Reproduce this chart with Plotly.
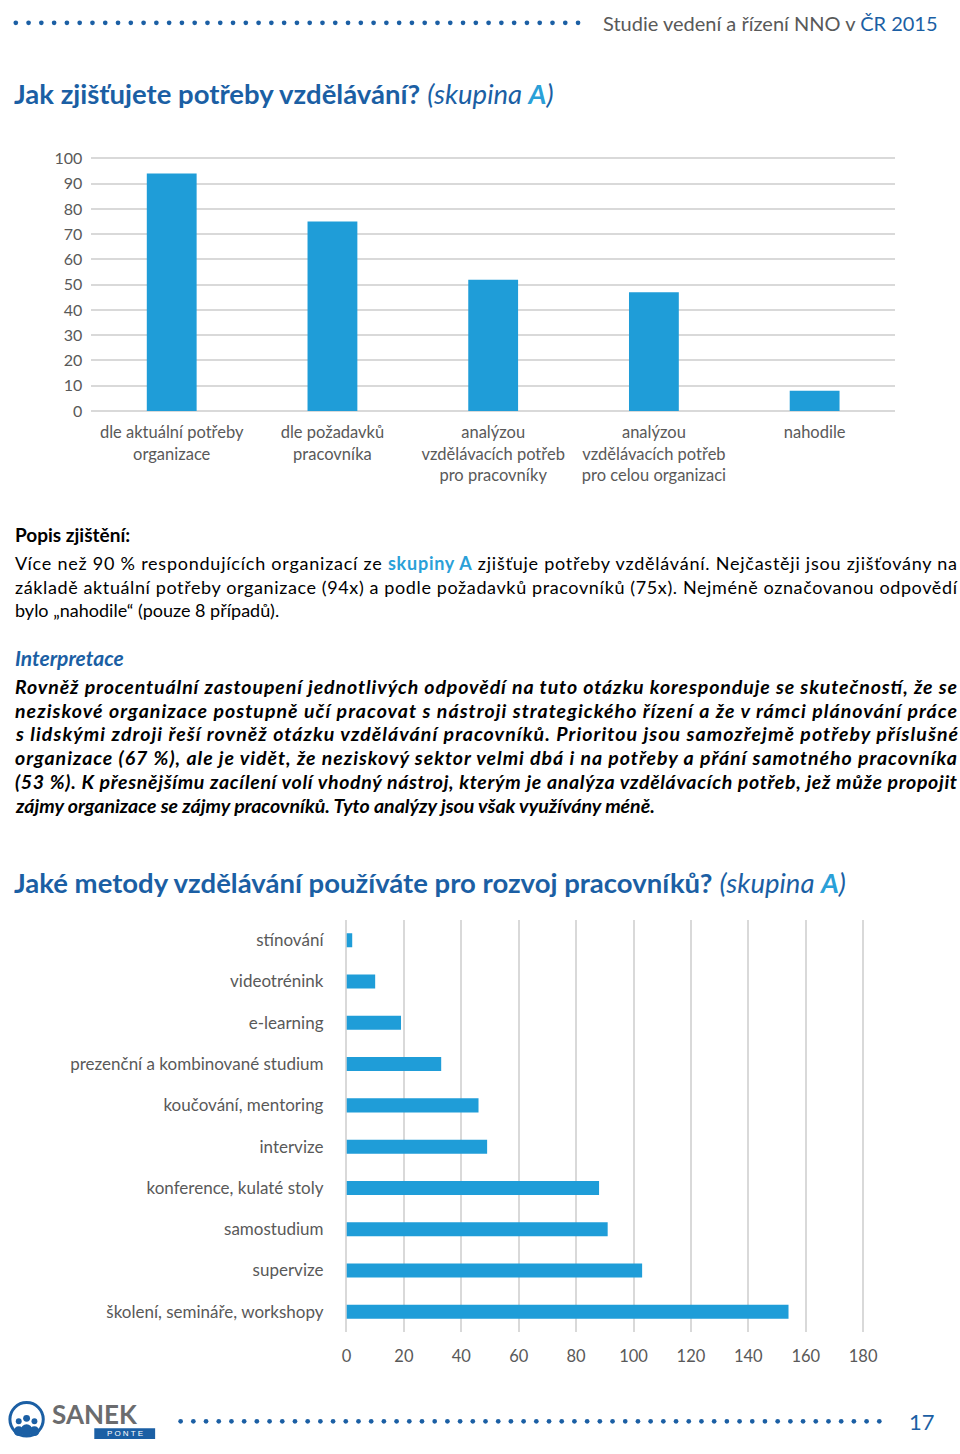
import plotly.graph_objects as go

# ---------------- data ----------------
needs_categories = [
    "dle aktuální potřeby<br>organizace",
    "dle požadavků<br>pracovníka",
    "analýzou<br>vzdělávacích potřeb<br>pro pracovníky",
    "analýzou<br>vzdělávacích potřeb<br>pro celou organizaci",
    "nahodile",
]
needs_values = [94, 75, 52, 47, 8]
needs_ticks = [0, 10, 20, 30, 40, 50, 60, 70, 80, 90, 100]

methods_categories = [
    "stínování",
    "videotrénink",
    "e-learning",
    "prezenční a kombinované studium",
    "koučování, mentoring",
    "intervize",
    "konference, kulaté stoly",
    "samostudium",
    "supervize",
    "školení, semináře, workshopy",
]
methods_values = [2, 10, 19, 33, 46, 49, 88, 91, 103, 154]
methods_ticks = [0, 20, 40, 60, 80, 100, 120, 140, 160, 180]

# ---------------- style ----------------
W, H = 960, 1454
BAR = "#1f9dd8"
GRID = "#d9d9d9"
GRAYTXT = "#595959"
DARKBLUE = "#1b5fa4"
LIGHTBLUE = "#2aa0d8"
FONT = "Lato, 'Open Sans', sans-serif"


def px(x):
    return x / W


def py(y):
    return 1 - y / H


fig = go.Figure()

fig.add_trace(go.Bar(
    x=needs_categories, y=needs_values, marker_color=BAR, width=0.31,
    marker_line_width=0, xaxis="x", yaxis="y", hoverinfo="x+y",
))
fig.add_trace(go.Bar(
    y=methods_categories, x=methods_values, orientation="h", marker_color=BAR,
    width=0.34, marker_line_width=0, xaxis="x2", yaxis="y2", hoverinfo="x+y",
))

axis_font = dict(family=FONT, size=16.5, color=GRAYTXT)

fig.update_layout(
    width=W, height=H,
    margin=dict(l=0, r=0, t=0, b=0),
    paper_bgcolor="white", plot_bgcolor="white",
    showlegend=False,
    xaxis=dict(
        domain=[px(88), px(907)], anchor="y", showgrid=False, showline=False,
        zeroline=False, tickfont=axis_font, ticks="", ticklabelstandoff=10,
        fixedrange=True,
    ),
    yaxis=dict(
        domain=[py(407), py(150)], anchor="x", range=[0, 100.5],
        tickvals=needs_ticks, showgrid=True, gridcolor=GRID, gridwidth=2,
        zeroline=True, zerolinecolor=GRID, zerolinewidth=2, showline=False,
        tickfont=dict(family=FONT, size=16, color=GRAYTXT), ticks="",
        ticklabelstandoff=8, fixedrange=True,
    ),
    xaxis2=dict(
        domain=[px(348), px(876)], anchor="y2", range=[0, 180.5],
        tickvals=methods_ticks, showgrid=True, gridcolor=GRID, gridwidth=2,
        zeroline=True, zerolinecolor=GRID, zerolinewidth=2, showline=False,
        tickfont=axis_font, ticks="", ticklabelstandoff=12, fixedrange=True,
    ),
    yaxis2=dict(
        domain=[py(1340), py(922)], anchor="x2", autorange="reversed",
        showgrid=False, showline=False, zeroline=False,
        tickfont=dict(family=FONT, size=17, color=GRAYTXT),
        ticks="", ticklabelstandoff=22, fixedrange=True,
    ),
)

ann = []
justify = []


def text(x, y, s, size, color="black", family=FONT, xanchor="left", just=False):
    if just:
        justify.append(len(ann))
    ann.append(dict(
        x=px(x), y=py(y), xref="paper", yref="paper", text=s, showarrow=False,
        xanchor=xanchor, yanchor="middle", align="left",
        font=dict(family=family, size=size, color=color),
    ))


# header
text(953, 14, f"Studie vedení a řízení NNO v <span style='color:{DARKBLUE}'>ČR 2015</span>",
     20, GRAYTXT, xanchor="right")

# titles
text(7, 86, f"<b>Jak zjišťujete potřeby vzdělávání?</b> <i>(skupina <b style='color:{LIGHTBLUE}'>A</b>)</i>",
     27.5, DARKBLUE)
text(7, 884, f"<b>Jaké metody vzdělávání používáte pro rozvoj pracovníků?</b> <i>(skupina <b style='color:{LIGHTBLUE}'>A</b>)</i>",
     27.5, DARKBLUE)

# description
text(8, 532, "<b>Popis zjištění:</b>", 19)
popis = [
    f"Více než 90 % respondujících organizací ze <b style='color:{LIGHTBLUE}'>skupiny A</b> zjišťuje potřeby vzdělávání. Nejčastěji jsou zjišťovány na",
    "základě aktuální potřeby organizace (94x) a podle požadavků pracovníků (75x). Nejméně označovanou odpovědí",
    "bylo „nahodile“ (pouze 8 případů).",
]
for i, line in enumerate(popis):
    text(8, 561 + 24 * i, line, 18, just=(i < len(popis) - 1))

text(8, 657, "<b><i>Interpretace</i></b>", 21, DARKBLUE)
interp = [
    "Rovněž procentuální zastoupení jednotlivých odpovědí na tuto otázku koresponduje se skutečností, že se",
    "neziskové organizace postupně učí pracovat s nástroji strategického řízení a že v rámci plánování práce",
    "s lidskými zdroji řeší rovněž otázku vzdělávání pracovníků. Prioritou jsou samozřejmě potřeby příslušné",
    "organizace (67 %), ale je vidět, že neziskový sektor velmi dbá i na potřeby a přání samotného pracovníka",
    "(53 %). K přesnějšímu zacílení volí vhodný nástroj, kterým je analýza vzdělávacích potřeb, jež může propojit",
    "zájmy organizace se zájmy pracovníků. Tyto analýzy jsou však využívány méně.",
]
for i, line in enumerate(interp):
    text(8, 686 + 24 * i, f"<b><i>{line}</i></b>", 19.5, just=(i < len(interp) - 1))

# footer
text(46, 1423, "<b>SANEK</b>", 26, "#6b6c6e")
text(122, 1442.5, "P O N T E", 8, "white", "'Liberation Sans', sans-serif", xanchor="center")
text(950, 1430, "17", 22, DARKBLUE, xanchor="right")

fig.update_layout(annotations=ann)

# decorative dots and logo
shapes = []


def dot_row(x0, x1, y, n, r=2.4):
    step = (x1 - x0) / (n - 1)
    for i in range(n):
        cx = x0 + i * step
        shapes.append(dict(type="circle", xref="paper", yref="paper",
                           x0=px(cx - r), x1=px(cx + r), y0=py(y + r), y1=py(y - r),
                           fillcolor=DARKBLUE, line_width=0))


dot_row(11, 584, 14, 45)
dot_row(179, 891, 1430, 56)

shapes.append(dict(type="rect", xref="paper", yref="paper", x0=px(91), x1=px(153),
                   y0=py(1448), y1=py(1437), fillcolor=DARKBLUE, line_width=0, layer="below"))
shapes.append(dict(type="circle", xref="paper", yref="paper", x0=px(5), x1=px(39),
                   y0=py(1445), y1=py(1411), fillcolor="white",
                   line=dict(color=DARKBLUE, width=3)))
for cx, cy, r in [(14, 1430, 3), (22, 1427, 3.5), (30, 1430, 3)]:
    shapes.append(dict(type="circle", xref="paper", yref="paper", x0=px(cx - r), x1=px(cx + r),
                       y0=py(cy + r), y1=py(cy - r), fillcolor=DARKBLUE, line_width=0))
for cx, cy, rx, ry in [(14, 1440, 5, 5), (22, 1439, 6, 6), (30, 1440, 5, 5)]:
    shapes.append(dict(type="circle", xref="paper", yref="paper", x0=px(cx - rx), x1=px(cx + rx),
                       y0=py(cy + ry), y1=py(cy - ry), fillcolor=DARKBLUE, line_width=0))

fig.update_layout(shapes=shapes)

post = (
    "document.body.style.margin='0';document.body.style.overflow='hidden';"
    "var gd=document.getElementById('{plot_id}');"
    "var idx=" + str(justify) + ";"
    "idx.forEach(function(i){var t=gd.querySelector('g.annotation[data-index=\"'+i+'\"] text');"
    "if(t){t.setAttribute('textLength','942');t.setAttribute('lengthAdjust','spacing');}});"
)

fig.write_html("out.html", post_script=post, config={"displayModeBar": False})
